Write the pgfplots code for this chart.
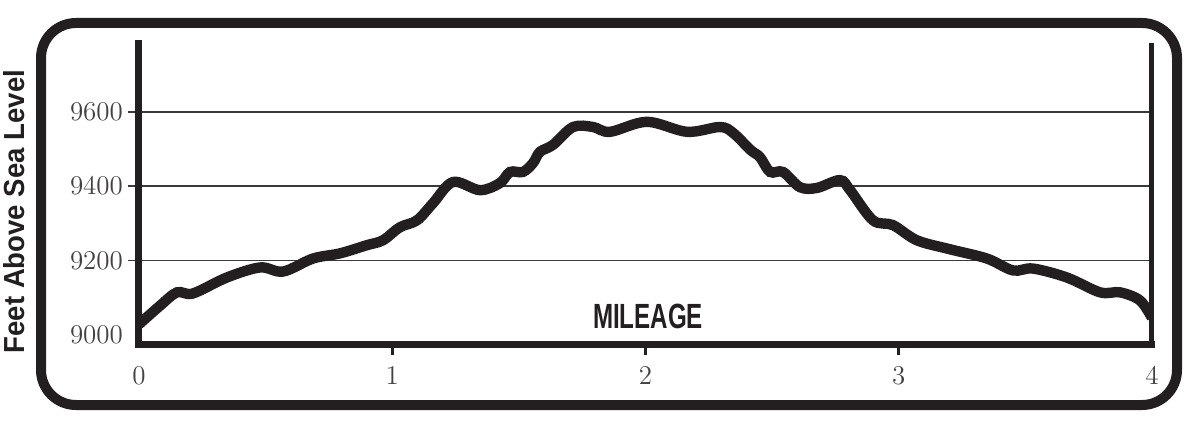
\documentclass[border=0pt]{standalone}
\usepackage{pgfplots}
\pgfplotsset{compat=1.18}
\usepackage{fontspec}
\newfontfamily\mileagefont[FakeStretch=0.69]{Liberation Sans Bold}
\newfontfamily\ylabfont[FakeStretch=0.95]{Liberation Sans Bold}
\definecolor{ink}{HTML}{231F20}
\definecolor{gridc}{HTML}{3A3A3A}

\pgfplotstableread{
mile  feet
0.000 9028
0.083 9078
0.150 9114
0.213 9111
0.347 9154
0.478 9181
0.569 9170
0.687 9205
0.794 9219
0.900 9241
0.963 9254
1.030 9289
1.098 9308
1.161 9354
1.240 9411
1.346 9389
1.425 9408
1.465 9438
1.516 9438
1.556 9462
1.583 9492
1.635 9511
1.714 9559
1.793 9559
1.860 9546
2.006 9573
2.164 9546
2.294 9559
2.346 9543
2.415 9497
2.452 9478
2.492 9438
2.543 9438
2.610 9397
2.677 9395
2.768 9416
2.808 9389
2.898 9308
2.977 9295
3.072 9254
3.202 9230
3.348 9205
3.451 9173
3.530 9178
3.664 9154
3.795 9114
3.874 9114
3.953 9092
4.000 9045
}\profile

\begin{document}
\begin{tikzpicture}[x=1pt,y=1pt]
\path[use as bounding box] (0,0) rectangle (600,214.5);
\draw[ink, line width=5pt, rounded corners=17.5pt] (20.5,12) rectangle (588.5,203);
\begin{axis}[
  at={(69.5pt,42.5pt)}, anchor=south west,
  scale only axis, width=506.5pt, height=150.5pt,
  xmin=0, xmax=4, ymin=8975, ymax=9785,
  axis line style={draw=none},
  xtick={1,2,3}, extra x ticks={0,4},
  extra x tick style={tick style={draw=none}},
  ytick={9200,9400,9600}, extra y ticks={9000},
  extra y tick style={tick style={draw=none}, grid=none},
  ymajorgrids, grid style={gridc, line width=0.75pt},
  xtick pos=bottom, ytick pos=left, tick align=outside,
  major tick length=5.5pt,
  x tick style={ink, line width=1.5pt},
  y tick style={gridc, line width=0.75pt},
  /pgf/number format/assume math mode=true,
  tick label style={font=\fontsize{13.5}{15}\selectfont, text=ink!85},
  yticklabel style={/pgf/number format/1000 sep={}, anchor=east, xshift=1pt},
  xticklabel style={yshift=-2pt},
  xlabel={MILEAGE},
  every axis x label/.style={at={(rel axis cs:0.5025,0.093)}, anchor=center,
     font=\mileagefont\fontsize{17.5}{18}\selectfont, text=ink},
  ylabel={Feet Above Sea Level},
  every axis y label/.style={at={(rel axis cs:0,0.44)}, xshift=-62.5pt, rotate=90, anchor=center,
     font=\ylabfont\fontsize{14.5}{16}\selectfont, text=ink},
  after end axis/.code={
    \draw[ink, line width=3.5pt, line cap=rect] (rel axis cs:0,1) -- (rel axis cs:0,0) -- (rel axis cs:1,0);
    \draw[ink, line width=2.5pt] (rel axis cs:1,0) -- (rel axis cs:1,1);
  },
]
\addplot[ink, line width=5.2pt, smooth, tension=0.55] table[x=mile, y=feet] {\profile};
\end{axis}
\end{tikzpicture}
\end{document}
